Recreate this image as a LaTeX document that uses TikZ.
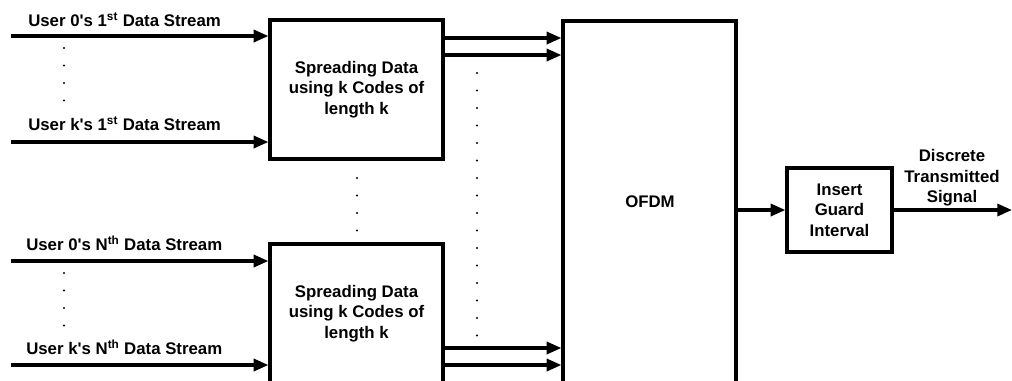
\documentclass[tikz,border=0pt]{standalone}
\usepackage{fontspec}
\setmainfont{Liberation Sans}
\usetikzlibrary{arrows.meta}
\newcommand{\apo}{\XeTeXglyph\XeTeXcharglyph"0027\relax}
\begin{document}
\begin{tikzpicture}[x=0.75pt,y=-0.75pt,
  every node/.style={font=\fontsize{12.6}{15.5}\selectfont\bfseries},
  blk/.style={draw,line width=2.4pt,inner sep=0pt,align=center},
  arr/.style={line width=2.4pt,-{Triangle[length=11pt,width=9pt]}},
  lbl/.style={anchor=base west,inner sep=0pt}]
\useasboundingbox (0,0) rectangle (1012,380);
\clip (0,0) rectangle (1012,380);
% blocks
\node[blk,minimum width=129.75pt,minimum height=104.25pt] (top) at (356.5,89.5)
  {Spreading Data\\using k Codes of\\length k};
\node[blk,minimum width=129.75pt,minimum height=104.25pt] (bot) at (356.5,313.5)
  {Spreading Data\\using k Codes of\\length k};
\node[blk,minimum width=129.75pt,minimum height=271.5pt] (ofdm) at (649.5,202) {};
\node at (650,202) (ofdmt) {OFDM};
\node[blk,minimum width=78.75pt,minimum height=63pt] (guard) at (839.5,210)
  {Insert\\Guard\\Interval};
% input coordinates
\coordinate (i1) at (11,36);
\coordinate (i2) at (11,142);
\coordinate (i3) at (11,261);
\coordinate (i4) at (11,365);
\draw[arr] (i1) -- (i1 -| top.west);
\draw[arr] (i2) -- (i2 -| top.west);
\draw[arr] (i3) -- (i3 -| bot.west);
\draw[arr] (i4) -- (i4 -| bot.west);
% labels
\node[lbl] (l1) at (28,26) {User 0\apo s 1\textsuperscript{st} Data Stream};
\node[lbl] (l2) at (28,130) {User k\apo s 1\textsuperscript{st} Data Stream};
\node[lbl] (l3) at (26,250) {User 0\apo s N\textsuperscript{th} Data Stream};
\node[lbl] (l4) at (26,354) {User k\apo s N\textsuperscript{th} Data Stream};
% outputs of spreading blocks
\coordinate (o1) at (443,38);
\coordinate (o2) at (443,55);
\coordinate (o3) at (443,348);
\coordinate (o4) at (443,365);
\draw[arr] (o1 -| top.east) -- (o1 -| ofdm.west);
\draw[arr] (o2 -| top.east) -- (o2 -| ofdm.west);
\draw[arr] (o3 -| bot.east) -- (o3 -| ofdm.west);
\draw[arr] (o4 -| bot.east) -- (o4 -| ofdm.west);
% OFDM to guard, guard to output
\coordinate (g) at (0,210);
\draw[arr] (g -| ofdm.east) -- (guard.west);
\coordinate (out) at (1012,210);
\draw[arr] (guard.east) -- (out);
\node[align=center] (sig) at (952,178) {Discrete\\Transmitted\\Signal};
% dots
\foreach \y in {48,65.5,83,100.5} \fill (64,\y) circle (0.9pt);
\foreach \y in {273,290.5,308,325.5} \fill (64,\y) circle (0.9pt);
\foreach \y in {178,195.5,213,230.5} \fill (357,\y) circle (0.9pt);
\foreach \i in {0,...,15} \fill (477,73+17.5*\i) circle (0.9pt);
\end{tikzpicture}
\end{document}
